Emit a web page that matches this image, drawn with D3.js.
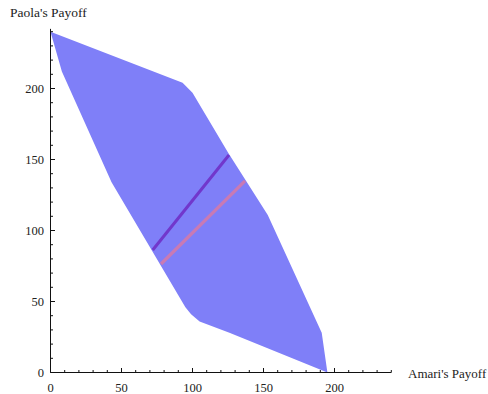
<!DOCTYPE html>
<html lang="en">
<head>
    <meta charset="UTF-8">
    <title>Payoff region</title>
    <style>
        body { margin: 0; background: #fff; }
        text { font-family: "Liberation Serif", "DejaVu Serif", serif; fill: #222; }
    </style>
</head>
<body>
    <script src="https://cdn.jsdelivr.net/npm/d3@7"></script>
    <svg id="chart" width="488" height="394"></svg>
    <script>
        // feasible payoff region (Amari, Paola)
        var regionX = [0, 8, 43, 95, 99, 105, 126, 195, 191, 153, 125, 100, 93];
        var regionY = [240, 212, 134, 46, 41, 36, 28, 0, 28, 111, 155, 197, 204];

        // two segments drawn inside the region
        var purpleX = [72, 125.7];
        var purpleY = [86.3, 153.2];
        var pinkX = [77.8, 137];
        var pinkY = [76.4, 135];

        var majorTicks = [0, 50, 100, 150, 200];
        var minorTicks = d3.range(0, 241, 10);

        var svg = d3.select("#chart");

        var x = d3.scaleLinear().domain([0, 240]).range([50.5, 391.3]);
        var y = d3.scaleLinear().domain([0, 240]).range([372.5, 31.7]);

        var region = regionX.map(function (d, i) { return [x(d), y(regionY[i])]; });
        svg.append("path")
            .attr("d", "M" + region.join("L") + "Z")
            .attr("fill", "#7f7ff8");

        var line = d3.line();
        function seg(xs, ys) {
            return line(xs.map(function (d, i) { return [x(d), y(ys[i])]; }));
        }
        svg.append("path").attr("d", seg(purpleX, purpleY))
            .attr("stroke", "#7137cc").attr("stroke-width", 3).attr("fill", "none");
        svg.append("path").attr("d", seg(pinkX, pinkY))
            .attr("stroke", "#c97ab4").attr("stroke-width", 3.2).attr("fill", "none");

        // x axis
        var gx = svg.append("g");
        gx.append("line").attr("x1", x(0)).attr("x2", x(240))
            .attr("y1", y(0)).attr("y2", y(0)).attr("stroke", "#111");
        gx.selectAll(".mx").data(minorTicks).enter().append("line")
            .attr("x1", function (d) { return x(d); }).attr("x2", function (d) { return x(d); })
            .attr("y1", y(0)).attr("y2", function (d) { return majorTicks.indexOf(d) >= 0 ? y(0) - 4.5 : y(0) - 2.5; })
            .attr("stroke", "#111");
        gx.selectAll(".lx").data(majorTicks).enter().append("text")
            .attr("x", function (d) { return x(d); }).attr("y", 392)
            .attr("text-anchor", "middle").attr("font-size", 12.5)
            .text(function (d) { return d; });
        svg.append("text").attr("x", 408).attr("y", 378)
            .attr("font-size", 13).text("Amari's Payoff");

        // y axis
        var gy = svg.append("g");
        gy.append("line").attr("x1", x(0)).attr("x2", x(0))
            .attr("y1", y(0)).attr("y2", y(242)).attr("stroke", "#111");
        gy.selectAll(".my").data(minorTicks).enter().append("line")
            .attr("y1", function (d) { return y(d); }).attr("y2", function (d) { return y(d); })
            .attr("x1", x(0)).attr("x2", function (d) { return majorTicks.indexOf(d) >= 0 ? x(0) + 4.5 : x(0) + 2.5; })
            .attr("stroke", "#111");
        gy.selectAll(".ly").data(majorTicks).enter().append("text")
            .attr("x", 44).attr("y", function (d) { return y(d) + 4.5; })
            .attr("text-anchor", "end").attr("font-size", 12.5)
            .text(function (d) { return d; });
        svg.append("text").attr("x", 10).attr("y", 17)
            .attr("font-size", 13.5).text("Paola's Payoff");
    </script>
</body>
</html>
